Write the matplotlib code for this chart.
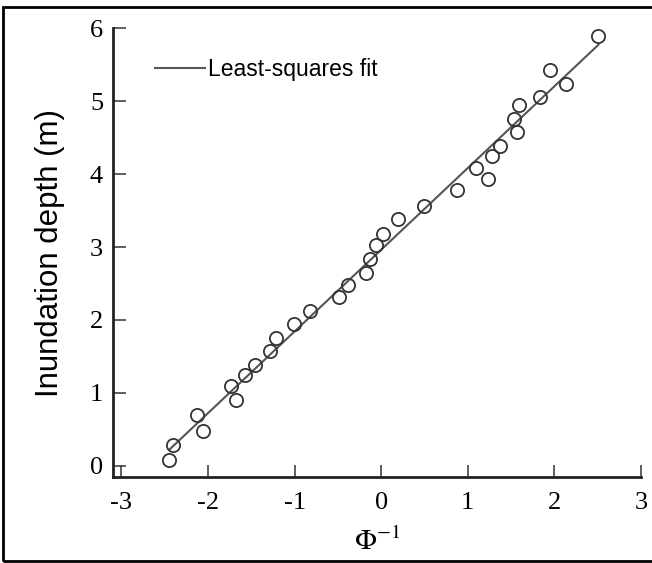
import numpy as np
import matplotlib
matplotlib.use("Agg")
import matplotlib.pyplot as plt
from matplotlib.patches import Rectangle

# normal quantiles and observed inundation depths
phi_inv = [-2.45, -2.40, -2.13, -2.06, -1.73, -1.68, -1.57, -1.46, -1.28, -1.21,
           -1.01, -0.82, -0.49, -0.38, -0.18, -0.13, -0.06, 0.02, 0.19, 0.50,
           0.87, 1.09, 1.23, 1.28, 1.37, 1.53, 1.57, 1.59, 1.84, 1.95, 2.13, 2.51]
depth = [0.08, 0.28, 0.70, 0.48, 1.09, 0.91, 1.24, 1.38, 1.57, 1.75,
         1.94, 2.13, 2.31, 2.48, 2.65, 2.83, 3.03, 3.18, 3.38, 3.56,
         3.78, 4.09, 3.93, 4.25, 4.39, 4.75, 4.58, 4.94, 5.05, 5.43, 5.23, 5.89]

x_ticks = [-3, -2, -1, 0, 1, 2, 3]
y_ticks = [0, 1, 2, 3, 4, 5, 6]

plt.rcParams['mathtext.fontset'] = 'stix'

fig = plt.figure(figsize=(6.52, 5.63), dpi=100)
ax = fig.add_axes([0.173, 0.153, 0.81, 0.797])

x = np.array(phi_inv)
y = np.array(depth)
slope, intercept = np.polyfit(x, y, 1)
xf = np.array([x.min(), x.max()])
ax.plot(xf, slope * xf + intercept, color='#555555', lw=1.5, label='Least-squares fit')
ax.plot(x, y, 'o', mfc='none', mec='#333333', mew=1.3, ms=9.5)

ax.set_xlim(-3.1, 3.0)
ax.set_ylim(-0.15, 6.0)
ax.set_xticks(x_ticks)
ax.set_yticks(y_ticks)
ax.set_xticklabels([str(v) for v in x_ticks], family='Liberation Serif', fontsize=19)
ax.set_yticklabels([str(v) for v in y_ticks], family='Liberation Serif', fontsize=19)
ax.tick_params(direction='in', length=9, width=1.2, color='#444444')
ax.tick_params(axis='x', pad=11)
ax.tick_params(axis='y', pad=7)

for s in ['top', 'right']:
    ax.spines[s].set_visible(False)
for s in ['left', 'bottom']:
    ax.spines[s].set_linewidth(2)
    ax.spines[s].set_color('#222222')

ax.set_ylabel('Inundation depth (m)', family='Liberation Sans', fontsize=22.5, labelpad=18)
ax.set_xlabel(r'$\Phi^{-1}$', fontsize=21, labelpad=10)

leg = ax.legend(loc='upper left', bbox_to_anchor=(0.04, 0.98), frameon=False,
                prop={'family': 'Liberation Sans', 'size': 16.5},
                handlelength=2.2, handletextpad=0.15)

# frame around the whole figure
fig.patches.append(Rectangle((0.004, 0.004), 1.2, 0.983, transform=fig.transFigure,
                             fill=False, ec='black', lw=2, clip_on=False))

fig.savefig('out.png', dpi=100)
